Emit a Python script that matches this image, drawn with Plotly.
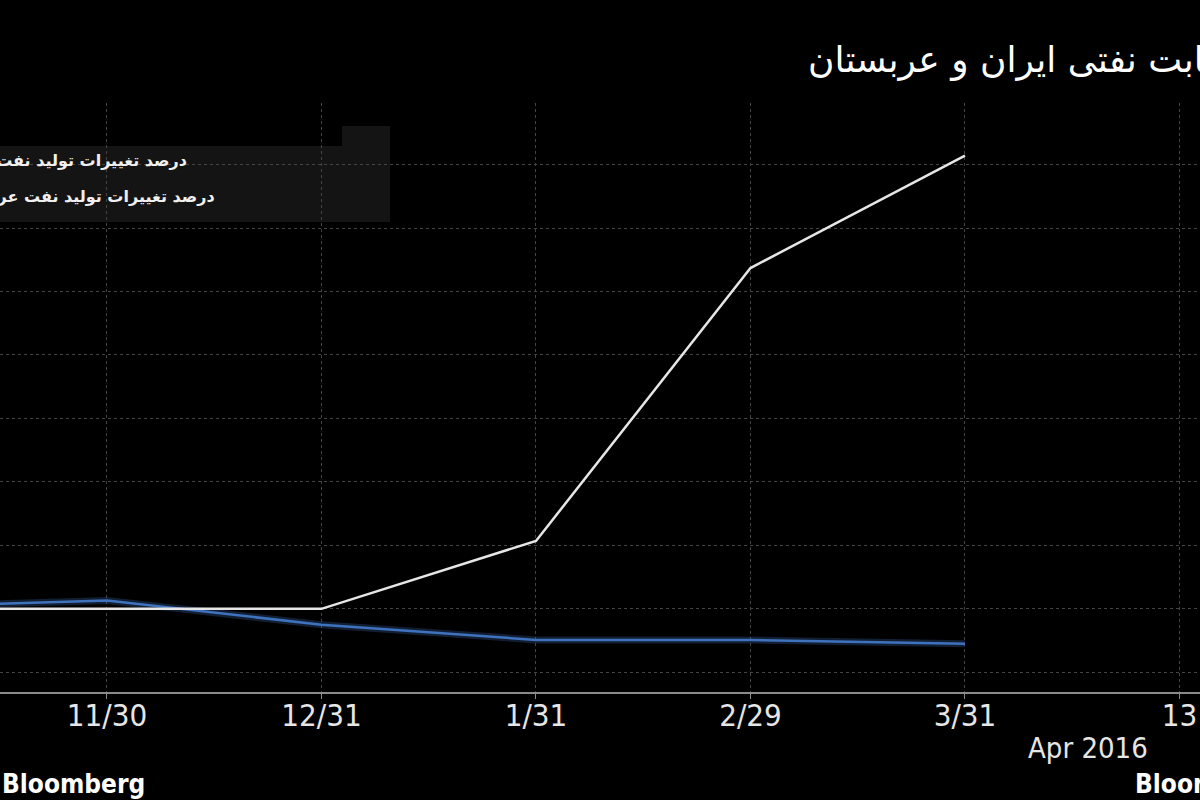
import plotly.graph_objects as go

# monthly % change in oil output
months = ["10/31", "11/30", "12/31", "1/31", "2/29", "3/31"]
iran = [0.0, 0.0, 0.0, 1.07, 5.37, 7.14]
saudi = [0.03, 0.13, -0.25, -0.49, -0.49, -0.55]

tick_labels = months + ["13"]

title_text = "رقابت نفتی ایران و عربستان"
legend_iran = "درصد تغییرات تولید نفت ایران"
legend_saudi = "درصد تغییرات تولید نفت عربستان"

W, H = 1200, 800
ML, MR, MT, MB = 0, 0, 103, 108
PLOT_H = H - MT - MB


def px_x(px):
    return px / (W - ML - MR)


def px_y(py):
    return (H - MB - py) / PLOT_H


pos = list(range(len(months)))
tick_pos = list(range(len(tick_labels)))

narrow = "Liberation Sans Narrow, DejaVu Sans Condensed, Arial Narrow, sans-serif"
arabic = "DejaVu Sans, Noto Sans, sans-serif"

fig = go.Figure()

# soft glow under the blue line
fig.add_trace(go.Scatter(x=pos, y=saudi, mode="lines", showlegend=False, hoverinfo="skip",
                         line=dict(color="rgba(70,120,200,0.25)", width=7)))
fig.add_trace(go.Scatter(x=pos, y=saudi, mode="lines", name=legend_saudi,
                         line=dict(color="#3f72bd", width=2.5)))
fig.add_trace(go.Scatter(x=pos, y=iran, mode="lines", name=legend_iran,
                         line=dict(color="#e6e6e6", width=2.5)))

fig.update_layout(
    width=W, height=H,
    margin=dict(l=ML, r=MR, t=MT, b=MB),
    paper_bgcolor="#000000",
    plot_bgcolor="#000000",
    showlegend=False,
    font=dict(family=narrow, color="#e6e6e6"),
)

fig.update_xaxes(
    range=[0.5012, 6.0956],
    tickvals=tick_pos, ticktext=tick_labels,
    tickfont=dict(size=31, color="#e6e6e6", family=narrow),
    ticklabelstandoff=-10,
    showgrid=True, gridcolor="#444444", griddash="dot", gridwidth=1,
    showline=True, linecolor="#8a8a8a", linewidth=2,
    ticks="outside", ticklen=5, tickcolor="#8a8a8a",
    zeroline=False,
)
fig.update_yaxes(
    range=[-1.31, 7.97], dtick=1, tick0=0,
    showticklabels=False,
    showgrid=True, gridcolor="#444444", griddash="dot", gridwidth=1,
    zeroline=False, showline=False,
)

# legend panel (cut off on the left like the source image)
panel = "#141414"
fig.add_shape(type="rect", xref="paper", yref="paper", layer="between",
              x0=px_x(-10), x1=px_x(390), y0=px_y(222), y1=px_y(146),
              fillcolor=panel, line=dict(width=0))
fig.add_shape(type="rect", xref="paper", yref="paper", layer="between",
              x0=px_x(342), x1=px_x(390), y0=px_y(146), y1=px_y(126),
              fillcolor=panel, line=dict(width=0))

fig.add_annotation(text="<b>" + legend_iran + "</b>", xref="paper", yref="paper",
                   x=px_x(189), y=px_y(160), xanchor="right", yanchor="middle",
                   showarrow=False, font=dict(family=arabic, size=16, color="#f0f0f0"))
fig.add_annotation(text="<b>" + legend_saudi + "</b>", xref="paper", yref="paper",
                   x=px_x(217), y=px_y(196), xanchor="right", yanchor="middle",
                   showarrow=False, font=dict(family=arabic, size=16, color="#f0f0f0"))

# title, cut off on the right
fig.add_annotation(text=title_text, xref="paper", yref="paper",
                   x=px_x(806), y=px_y(60), xanchor="left", yanchor="middle",
                   showarrow=False, font=dict(family=arabic, size=36, color="#ffffff"))

fig.add_annotation(text="Apr 2016", xref="paper", yref="paper",
                   x=px_x(1088), y=px_y(748), xanchor="center", yanchor="middle",
                   showarrow=False, font=dict(family=narrow, size=29, color="#e6e6e6"))

fig.add_annotation(text="<b>Bloomberg</b>", xref="paper", yref="paper",
                   x=px_x(0), y=px_y(784), xanchor="left", yanchor="middle",
                   showarrow=False, font=dict(family=narrow, size=26, color="#ffffff"))
fig.add_annotation(text="<b>Bloomberg</b>", xref="paper", yref="paper",
                   x=px_x(1133), y=px_y(784), xanchor="left", yanchor="middle",
                   showarrow=False, font=dict(family=narrow, size=26, color="#ffffff"))

# the page has a default 8px body margin; drop it so the chart fills the window
fig.write_html("out.html", config={"displayModeBar": False},
               post_script="document.body.style.margin='0';document.body.style.background='#000';")
